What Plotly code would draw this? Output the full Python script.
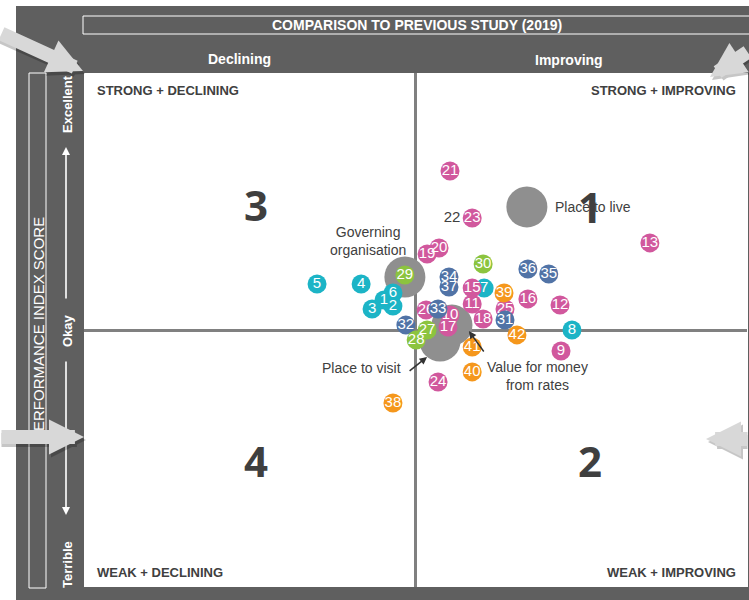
import plotly.graph_objects as go

W, H = 749, 600
FONT = "Liberation Sans, Arial, sans-serif"
DARK = "#5f5f5f"
TXT = "#404040"

# x = change compared to 2019 study, y = performance index score (0 = okay)
cyan_ids = [1, 2, 3, 4, 5, 6, 7, 8]
cyan_x = [-0.95, -0.68, -1.31, -1.64, -2.97, -0.68, 2.07, 4.72]
cyan_y = [1.17, 0.93, 0.82, 1.79, 1.79, 1.44, 1.63, 0.00]

pink_ids = [9, 10, 11, 12, 13, 15, 16, 17, 18, 19, 20, 21, 23, 24, 25, 26]
pink_x = [4.39, 1.04, 1.71, 4.36, 7.07, 1.71, 3.39, 0.98, 2.04, 0.35, 0.71, 1.04, 1.71, 0.68, 2.70, 0.32]
pink_y = [-0.82, 0.58, 1.01, 0.97, 3.39, 1.63, 1.21, 0.12, 0.43, 2.96, 3.19, 6.19, 4.36, -2.02, 0.82, 0.78]

blue_ids = [31, 32, 33, 34, 35, 36, 37]
blue_x = [2.70, -0.29, 0.68, 1.01, 4.02, 3.39, 1.01]
blue_y = [0.39, 0.19, 0.82, 2.06, 2.18, 2.37, 1.67]

green_ids = [27, 28, 29, 30]
green_x = [0.35, 0.02, -0.32, 2.04]
green_y = [0.00, -0.39, 2.14, 2.57]

orange_ids = [38, 39, 40, 41, 42]
orange_x = [-0.68, 2.67, 1.71, 1.71, 3.06]
orange_y = [-2.84, 1.44, -1.63, -0.66, -0.19]

plain_ids = [22]
plain_x = [1.10]
plain_y = [4.36]

overall = ["Place to live", "Governing organisation", "Value for money from rates", "Place to visit"]
overall_x = [3.36, -0.32, 1.10, 0.74]
overall_y = [4.79, 2.06, 0.19, -0.43]

groups = [
    (cyan_ids, cyan_x, cyan_y, "#1cb4c6"),
    (pink_ids, pink_x, pink_y, "#d1589d"),
    (blue_ids, blue_x, blue_y, "#5173a6"),
    (green_ids, green_x, green_y, "#8cc43f"),
    (orange_ids, orange_x, orange_y, "#f5971c"),
]


def px(x, y):
    return x / W, 1 - y / H


fig = go.Figure()
fig.add_trace(go.Scatter(x=overall_x, y=overall_y, mode="markers",
                         marker=dict(size=41, color="#8f8f8f", line_width=0),
                         hoverinfo="skip"))
for ids, xs, ys, col in groups:
    fig.add_trace(go.Scatter(x=xs, y=ys, mode="markers+text", text=[str(i) for i in ids],
                             textposition="middle center",
                             textfont=dict(family=FONT, size=15, color="white"),
                             marker=dict(size=19, color=col, line_width=0)))
fig.add_trace(go.Scatter(x=plain_x, y=plain_y, mode="text", text=[str(i) for i in plain_ids],
                         textfont=dict(family=FONT, size=15, color=TXT)))

shapes = []
# dark frame, white plot area, outline boxes
x0, y0 = px(16, 6)
shapes.append(dict(type="rect", xref="paper", yref="paper", x0=x0, y0=0, x1=1, y1=y0,
                   fillcolor=DARK, line_width=0, layer="below"))
a, b = px(84, 73)
c, d = px(748, 587)
shapes.append(dict(type="rect", xref="paper", yref="paper", x0=a, y0=d, x1=c, y1=b,
                   fillcolor="white", line_width=0, layer="below"))
a, b = px(83, 16)
c, d = px(755, 34)
shapes.append(dict(type="rect", xref="paper", yref="paper", x0=a, y0=d, x1=c, y1=b,
                   line=dict(color="white", width=1)))
a, b = px(29, 73)
c, d = px(46, 588)
shapes.append(dict(type="rect", xref="paper", yref="paper", x0=a, y0=d, x1=c, y1=b,
                   line=dict(color="white", width=1)))

ann = []


def label(xp, yp, text, size=13, color="white", bold=True, angle=0, xanchor="center", family=FONT):
    x, y = px(xp, yp)
    ann.append(dict(xref="paper", yref="paper", x=x, y=y, text=text, showarrow=False,
                    textangle=angle, xanchor=xanchor, yanchor="middle",
                    font=dict(family=family, size=size, color=color,
                              weight="bold" if bold else "normal")))


label(417, 25, "COMPARISON TO PREVIOUS STUDY (2019)", size=14)
label(239, 59, "Declining", size=14)
label(569, 60, "Improving", size=14)
label(38, 329, "PERFORMANCE INDEX SCORE", size=15, bold=False, angle=-90)
label(67, 104, "Excellent", size=13, angle=-90)
label(67, 331, "Okay", size=13, angle=-90)
label(67, 565, "Terrible", size=13, angle=-90)

label(95, 90, "STRONG + DECLINING", size=13, color=TXT, xanchor="left")
label(738, 91, "STRONG + IMPROVING", size=13, color=TXT, xanchor="right")
label(95, 572, "WEAK + DECLINING", size=13, color=TXT, xanchor="left")
label(738, 572, "WEAK + IMPROVING", size=13, color=TXT, xanchor="right")

for xp, yp, t in [(256, 204, "3"), (590, 207, "1"), (256, 460, "4"), (590, 460, "2")]:
    label(xp, yp, t, size=42, color="#3f3f3f", family="Open Sans, sans-serif")

# white scale arrows in the left column
for tip_y, tail_dy in [(147, 153), (515, -155)]:
    x, y = px(66, tip_y)
    ann.append(dict(xref="paper", yref="paper", x=x, y=y, ax=0, ay=tail_dy, text="",
                    showarrow=True, arrowhead=2, arrowsize=1, arrowwidth=1.6, arrowcolor="white"))

# bubble labels
ann.append(dict(x=overall_x[0], y=overall_y[0], text="Place to live", showarrow=False,
                xanchor="left", xshift=26, font=dict(family=FONT, size=14, color=TXT)))
ann.append(dict(x=overall_x[1], y=overall_y[1], text="Governing<br>organisation", showarrow=False,
                xshift=-37, yshift=36, font=dict(family=FONT, size=14, color=TXT)))
ann.append(dict(x=overall_x[3], y=overall_y[3], text="Place to visit", showarrow=False,
                xanchor="right", xshift=-37, yshift=-27, font=dict(family=FONT, size=14, color=TXT)))
ann.append(dict(x=overall_x[2], y=overall_y[2], text="Value for money<br>from rates", showarrow=False,
                xshift=86, yshift=-51, font=dict(family=FONT, size=14, color=TXT)))
ann.append(dict(x=0.35, y=-1.05, ax=-19, ay=15, text="", showarrow=True,
                arrowhead=2, arrowsize=1, arrowwidth=1.5, arrowcolor="#333333"))
ann.append(dict(x=1.61, y=-0.04, ax=16, ay=22, text="", showarrow=True,
                arrowhead=2, arrowsize=1, arrowwidth=1.5, arrowcolor="#333333"))

# big grey pointer arrows (tip, tail offset in px)
big = [((83, 71), (-103, -38)), ((710, 77), (54, -26)),
       ((84, 437), (-104, 0)), ((706, 439), (64, 0))]
for (tx, ty), (dx, dy) in big:
    for off, col in [((2, 3), "rgba(0,0,0,0.22)"), ((0, 0), "#d8d8d8")]:
        x, y = px(tx + off[0], ty + off[1])
        ann.append(dict(xref="paper", yref="paper", x=x, y=y, ax=dx, ay=dy, text="",
                        showarrow=True, arrowhead=2, arrowsize=0.5, arrowwidth=14, arrowcolor=col))

fig.update_layout(
    width=W, height=H, autosize=False,
    margin=dict(l=0, r=0, t=0, b=0),
    paper_bgcolor="white", plot_bgcolor="rgba(0,0,0,0)",
    showlegend=False,
    xaxis=dict(domain=[84 / W, 747 / W], range=[-10, 10], showgrid=False, showticklabels=False,
               ticks="", zeroline=True, zerolinecolor="#808080", zerolinewidth=3, fixedrange=True),
    yaxis=dict(domain=[1 - 587 / H, 1 - 73 / H], range=[-10, 10], showgrid=False, showticklabels=False,
               ticks="", zeroline=True, zerolinecolor="#808080", zerolinewidth=3, fixedrange=True),
    shapes=shapes, annotations=ann,
)

fig.write_html("out.html", config={"displayModeBar": False},
               post_script="document.body.style.margin='0';document.body.style.overflow='hidden';")
